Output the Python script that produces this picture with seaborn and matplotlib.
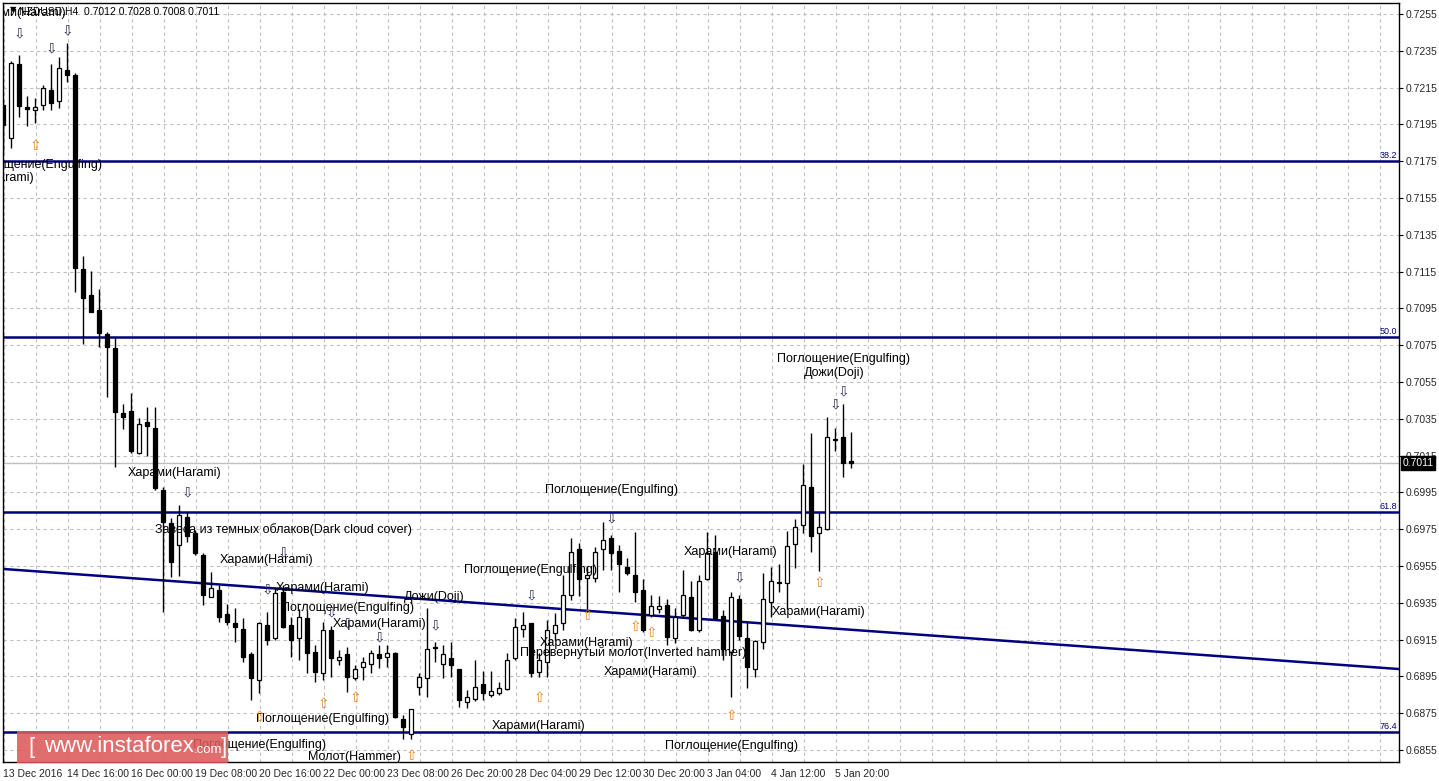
import numpy as np
import pandas as pd
import matplotlib
matplotlib.use("Agg")
import matplotlib.pyplot as plt
import seaborn as sns

# NZDUSD H4 candles (index = bar number from the left)
opens = [0.72055, 0.71876, 0.72278, 0.72045, 0.72028, 0.72055, 0.72137, 0.72077, 0.72246, 0.72218,
         0.71164, 0.71023, 0.70941, 0.70811, 0.70735, 0.70382, 0.70392, 0.70164, 0.70333, 0.70300,
         0.69963, 0.69784, 0.69664, 0.69816, 0.69729, 0.69610, 0.69382, 0.69420, 0.69289, 0.69240,
         0.69208, 0.69072, 0.68930, 0.69229, 0.69159, 0.69409, 0.69229, 0.69159, 0.69267, 0.69083,
         0.68968, 0.69202, 0.69039, 0.69072, 0.68941, 0.69001, 0.69017, 0.69072, 0.69055, 0.69077,
         0.68718, 0.68636, 0.68892, 0.68941, 0.69110, 0.69017, 0.69050, 0.68990, 0.68811, 0.68827,
         0.68909, 0.68849, 0.68860, 0.68882, 0.69050, 0.69208, 0.69240, 0.68974, 0.69028, 0.69186,
         0.69240, 0.69392, 0.69642, 0.69484, 0.69485, 0.69642, 0.69702, 0.69632, 0.69545, 0.69501,
         0.69420, 0.69284, 0.69316, 0.69338, 0.69159, 0.69284, 0.69382, 0.69202, 0.69479, 0.69626,
         0.69278, 0.69083, 0.69371, 0.69159, 0.68990, 0.69137, 0.69354, 0.69463, 0.69458, 0.69670,
         0.69772, 0.69979, 0.69729, 0.69751, 0.70240, 0.70251, 0.70120]
highs = [0.72083, 0.72295, 0.72327, 0.72104, 0.72093, 0.72164, 0.72278, 0.72316, 0.72392, 0.72229,
         0.71235, 0.71153, 0.71055, 0.70822, 0.70795, 0.70430, 0.70490, 0.70354, 0.70414, 0.70414,
         0.69979, 0.69811, 0.69882, 0.69843, 0.69746, 0.69621, 0.69517, 0.69447, 0.69343, 0.69322,
         0.69267, 0.69083, 0.69246, 0.69300, 0.69436, 0.69447, 0.69273, 0.69316, 0.69311, 0.69121,
         0.69246, 0.69224, 0.69094, 0.69110, 0.69012, 0.69055, 0.69094, 0.69121, 0.69121, 0.69083,
         0.68740, 0.68772, 0.68968, 0.69322, 0.69136, 0.69121, 0.69137, 0.68990, 0.68876, 0.69039,
         0.68979, 0.68979, 0.68920, 0.69077, 0.69267, 0.69300, 0.69240, 0.69077, 0.69256, 0.69294,
         0.69501, 0.69702, 0.69675, 0.69549, 0.69653, 0.69789, 0.69718, 0.69664, 0.69594, 0.69735,
         0.69479, 0.69392, 0.69387, 0.69371, 0.69322, 0.69528, 0.69468, 0.69501, 0.69735, 0.69718,
         0.69311, 0.69409, 0.69392, 0.69246, 0.69148, 0.69512, 0.69545, 0.69561, 0.69740, 0.69806,
         0.70104, 0.70273, 0.69838, 0.70360, 0.70300, 0.70430, 0.70280]
lows = [0.71800, 0.71822, 0.71990, 0.71941, 0.71958, 0.72028, 0.72028, 0.72039, 0.72180, 0.71039,
        0.70757, 0.70930, 0.70740, 0.70468, 0.70088, 0.70295, 0.70164, 0.70158, 0.70148, 0.69963,
        0.69300, 0.69490, 0.69495, 0.69680, 0.69610, 0.69338, 0.69382, 0.69246, 0.69229, 0.69137,
        0.69028, 0.68822, 0.68860, 0.69121, 0.69148, 0.69213, 0.69055, 0.69039, 0.68968, 0.68920,
        0.68930, 0.68947, 0.69012, 0.68865, 0.68930, 0.68930, 0.68968, 0.68995, 0.69001, 0.68724,
        0.68610, 0.68609, 0.68849, 0.68837, 0.69028, 0.68941, 0.68947, 0.68784, 0.68778, 0.68816,
        0.68822, 0.68838, 0.68849, 0.68876, 0.69039, 0.69164, 0.68947, 0.68947, 0.68947, 0.69148,
        0.69202, 0.69365, 0.69387, 0.69299, 0.69463, 0.69528, 0.69528, 0.69409, 0.69501, 0.69354,
        0.69191, 0.69273, 0.69294, 0.69121, 0.69132, 0.69267, 0.69197, 0.69191, 0.69474, 0.69256,
        0.69039, 0.68838, 0.69148, 0.68887, 0.68947, 0.69099, 0.69273, 0.69409, 0.69316, 0.69539,
        0.69729, 0.69626, 0.69523, 0.69746, 0.70175, 0.70034, 0.70080]
closes = [0.71947, 0.72284, 0.72050, 0.72034, 0.72045, 0.72148, 0.72066, 0.72257, 0.72218, 0.71170,
          0.71007, 0.70930, 0.70816, 0.70740, 0.70387, 0.70360, 0.70175, 0.70322, 0.70311, 0.69974,
          0.69789, 0.69572, 0.69827, 0.69713, 0.69621, 0.69392, 0.69430, 0.69273, 0.69246, 0.69218,
          0.69055, 0.68941, 0.69240, 0.69148, 0.69403, 0.69218, 0.69148, 0.69273, 0.69077, 0.68974,
          0.69202, 0.69050, 0.69055, 0.68947, 0.68990, 0.69028, 0.69077, 0.69050, 0.69077, 0.68729,
          0.68675, 0.68772, 0.68947, 0.69099, 0.69104, 0.69072, 0.69012, 0.68822, 0.68838, 0.68892,
          0.68860, 0.68871, 0.68887, 0.69039, 0.69218, 0.69229, 0.68968, 0.69039, 0.69202, 0.69229,
          0.69392, 0.69626, 0.69479, 0.69501, 0.69626, 0.69691, 0.69621, 0.69561, 0.69512, 0.69409,
          0.69202, 0.69333, 0.69333, 0.69164, 0.69273, 0.69392, 0.69202, 0.69468, 0.69621, 0.69267,
          0.69099, 0.69382, 0.69170, 0.69001, 0.69142, 0.69371, 0.69468, 0.69458, 0.69659, 0.69762,
          0.69990, 0.69713, 0.69762, 0.70251, 0.70235, 0.70110, 0.70110]

date_labels = ["13 Dec 2016", "14 Dec 16:00", "16 Dec 00:00", "19 Dec 08:00", "20 Dec 16:00",
               "22 Dec 00:00", "23 Dec 08:00", "26 Dec 20:00", "28 Dec 04:00", "29 Dec 12:00",
               "30 Dec 20:00", "3 Jan 04:00", "4 Jan 12:00", "5 Jan 20:00"]
price_ticks = [0.6855, 0.6875, 0.6895, 0.6915, 0.6935, 0.6955, 0.6975, 0.6995, 0.7015, 0.7035,
               0.7055, 0.7075, 0.7095, 0.7115, 0.7135, 0.7155, 0.7175, 0.7195, 0.7215, 0.7235, 0.7255]

fib_names = ["38.2", "50.0", "61.8", "76.4"]
fib_prices = [0.71751, 0.70795, 0.69843, 0.68648]
trend_bars = [0.0, 174.5]
trend_prices = [0.69534, 0.68990]
last_price = 0.7011

# pattern labels: text, bar, price
pattern_text = ["Харами(Harami)", "Поглощение(Engulfing)", "Харами(Harami)", "Харами(Harami)",
                "Завеса из темных облаков(Dark cloud cover)", "Харами(Harami)", "Харами(Harami)",
                "Поглощение(Engulfing)", "Харами(Harami)", "Дожи(Doji)", "Поглощение(Engulfing)",
                "Поглощение(Engulfing)", "Молот(Hammer)", "Поглощение(Engulfing)",
                "Поглощение(Engulfing)", "Харами(Harami)", "Перевернутый молот(Inverted hammer)",
                "Харами(Harami)", "Харами(Harami)", "Поглощение(Engulfing)", "Харами(Harami)",
                "Харами(Harami)", "Поглощение(Engulfing)", "Дожи(Doji)"]
pattern_bar = [2.1, 4.1, -1.9, 21.4, 35.0, 33.0, 40.0, 43.0, 47.1, 53.9, 39.9, 32.0, 43.9, 76.0,
               65.9, 73.0, 78.75, 81.0, 67.0, 91.0, 91.0, 102.0, 105.0, 103.9]
pattern_price = [0.72555, 0.71729, 0.71659, 0.70055, 0.69746, 0.69583, 0.69430, 0.69322, 0.69235,
                 0.69382, 0.68718, 0.68577, 0.68512, 0.69963, 0.69528, 0.69132, 0.69077, 0.68974,
                 0.68680, 0.68572, 0.69626, 0.69300, 0.70675, 0.70599]

down_bar = [2, 6, 8, 23, 35, 33, 41, 43, 47, 54, 66, 76, 92, 104, 105]
down_price = [0.72447, 0.72365, 0.72458, 0.69952, 0.69626, 0.69420, 0.69300, 0.69240, 0.69159,
              0.69229, 0.69392, 0.69811, 0.69490, 0.70430, 0.70501]
up_bar = [4, 32, 40, 44, 51, 67, 73, 79, 81, 91, 102]
up_price = [0.71833, 0.68729, 0.68799, 0.68832, 0.68517, 0.68832, 0.69278, 0.69218, 0.69186,
            0.68735, 0.69458]

sns.set_style("white")
plt.rcParams['font.family'] = ['Liberation Sans', 'DejaVu Sans']

df = pd.DataFrame({"open": opens, "high": highs, "low": lows, "close": closes})
df["bar"] = np.arange(len(df))

W, H = 1439, 781
fig = plt.figure(figsize=(W / 100, H / 100), dpi=100)
ax = fig.add_axes([3 / W, (H - 762) / H, (1399 - 3) / W, (762 - 3) / H])
ax.set_xlim(0, 174.5)
ax.set_ylim(0.684848, 0.726098)

# grid
for p in price_ticks:
    ax.axhline(p, color="#c0c0c0", lw=0.8, ls=(0, (3, 3)), zorder=0)
for b in range(0, 175, 4):
    ax.axvline(b + 0.125, color="#c0c0c0", lw=0.8, ls=(0, (3, 3)), zorder=0)

ax.axhline(last_price, color="#c0c0c0", lw=1, zorder=1)

# candles
ax.vlines(df["bar"], df["low"], df["high"], color="black", lw=1, zorder=3)
bull = df["close"] >= df["open"]
bottoms = df[["open", "close"]].min(axis=1)
heights = (df["close"] - df["open"]).abs()
ax.bar(df["bar"], heights, bottom=bottoms, width=0.6,
       color=np.where(bull, "white", "black"), edgecolor="black", lw=0.9, zorder=4)

# fibo levels and trend line
navy = "#000080"
for name, p in zip(fib_names, fib_prices):
    ax.axhline(p, color=navy, lw=1.8, zorder=2)
    ax.text(174.3, p + 0.00004, name, color=navy, fontsize=6.5, ha="right", va="bottom", zorder=6)
sns.lineplot(x=trend_bars, y=trend_prices, color=navy, lw=1.8, ax=ax, zorder=2)

# pattern labels
for t, b, p in zip(pattern_text, pattern_bar, pattern_price):
    ax.text(b, p, t, fontsize=9, color="black", ha="center", va="center", clip_on=True, zorder=7)
for b, p in zip(down_bar, down_price):
    ax.text(b, p, "⇩", fontsize=10, color="#33335a", ha="center", va="center",
            family="DejaVu Sans", clip_on=True, zorder=7)
for b, p in zip(up_bar, up_price):
    ax.text(b, p, "⇧", fontsize=10, color="#e08a1e", ha="center", va="center",
            family="DejaVu Sans", clip_on=True, zorder=7)

# axes
ax.yaxis.tick_right()
ax.set_yticks(price_ticks)
ax.set_yticklabels([f"{p:.4f}" for p in price_ticks], fontsize=7.5)
ax.set_xticks(np.arange(0, 8 * len(date_labels), 8))
ax.set_xticklabels(date_labels, fontsize=7.5, ha="left")
ax.tick_params(axis="both", length=3, width=0.8, color="black", pad=2)
ax.set_xlabel("")
ax.set_ylabel("")
for s in ax.spines.values():
    s.set_color("black")
    s.set_linewidth(1)
ax.grid(False)

ax.text(1.0025, last_price, f"{last_price:.4f}", transform=ax.get_yaxis_transform(),
        fontsize=7.5, color="white", va="center", ha="left",
        bbox=dict(boxstyle="square,pad=0.15", fc="black", ec="black"))

# header
fig.text(10 / W, 1 - 10 / H, "▼", fontsize=6, color="black", va="center", family="DejaVu Sans")
fig.text(19 / W, 1 - 11 / H, "NZDUSD,H4  0.7012 0.7028 0.7008 0.7011", fontsize=7.5,
         color="black", va="center")

# watermark
fig.patches.append(plt.Rectangle((17 / W, 1 - 763 / H), 211 / W, 32 / H, transform=fig.transFigure,
                                 fc="#dc5a5a", ec="none", alpha=0.88, zorder=10))
fig.text(28 / W, 1 - 748 / H, "[", fontsize=16, color="white", va="center", zorder=11)
fig.text(44 / W, 1 - 747 / H, "www.instaforex", fontsize=16, color="white", va="center", zorder=11)
fig.text(194 / W, 1 - 750 / H, ".com", fontsize=9.5, color="white", va="center", zorder=11)
fig.text(221 / W, 1 - 748 / H, "]", fontsize=16, color="white", va="center", zorder=11)

fig.savefig("out.png", dpi=100)
